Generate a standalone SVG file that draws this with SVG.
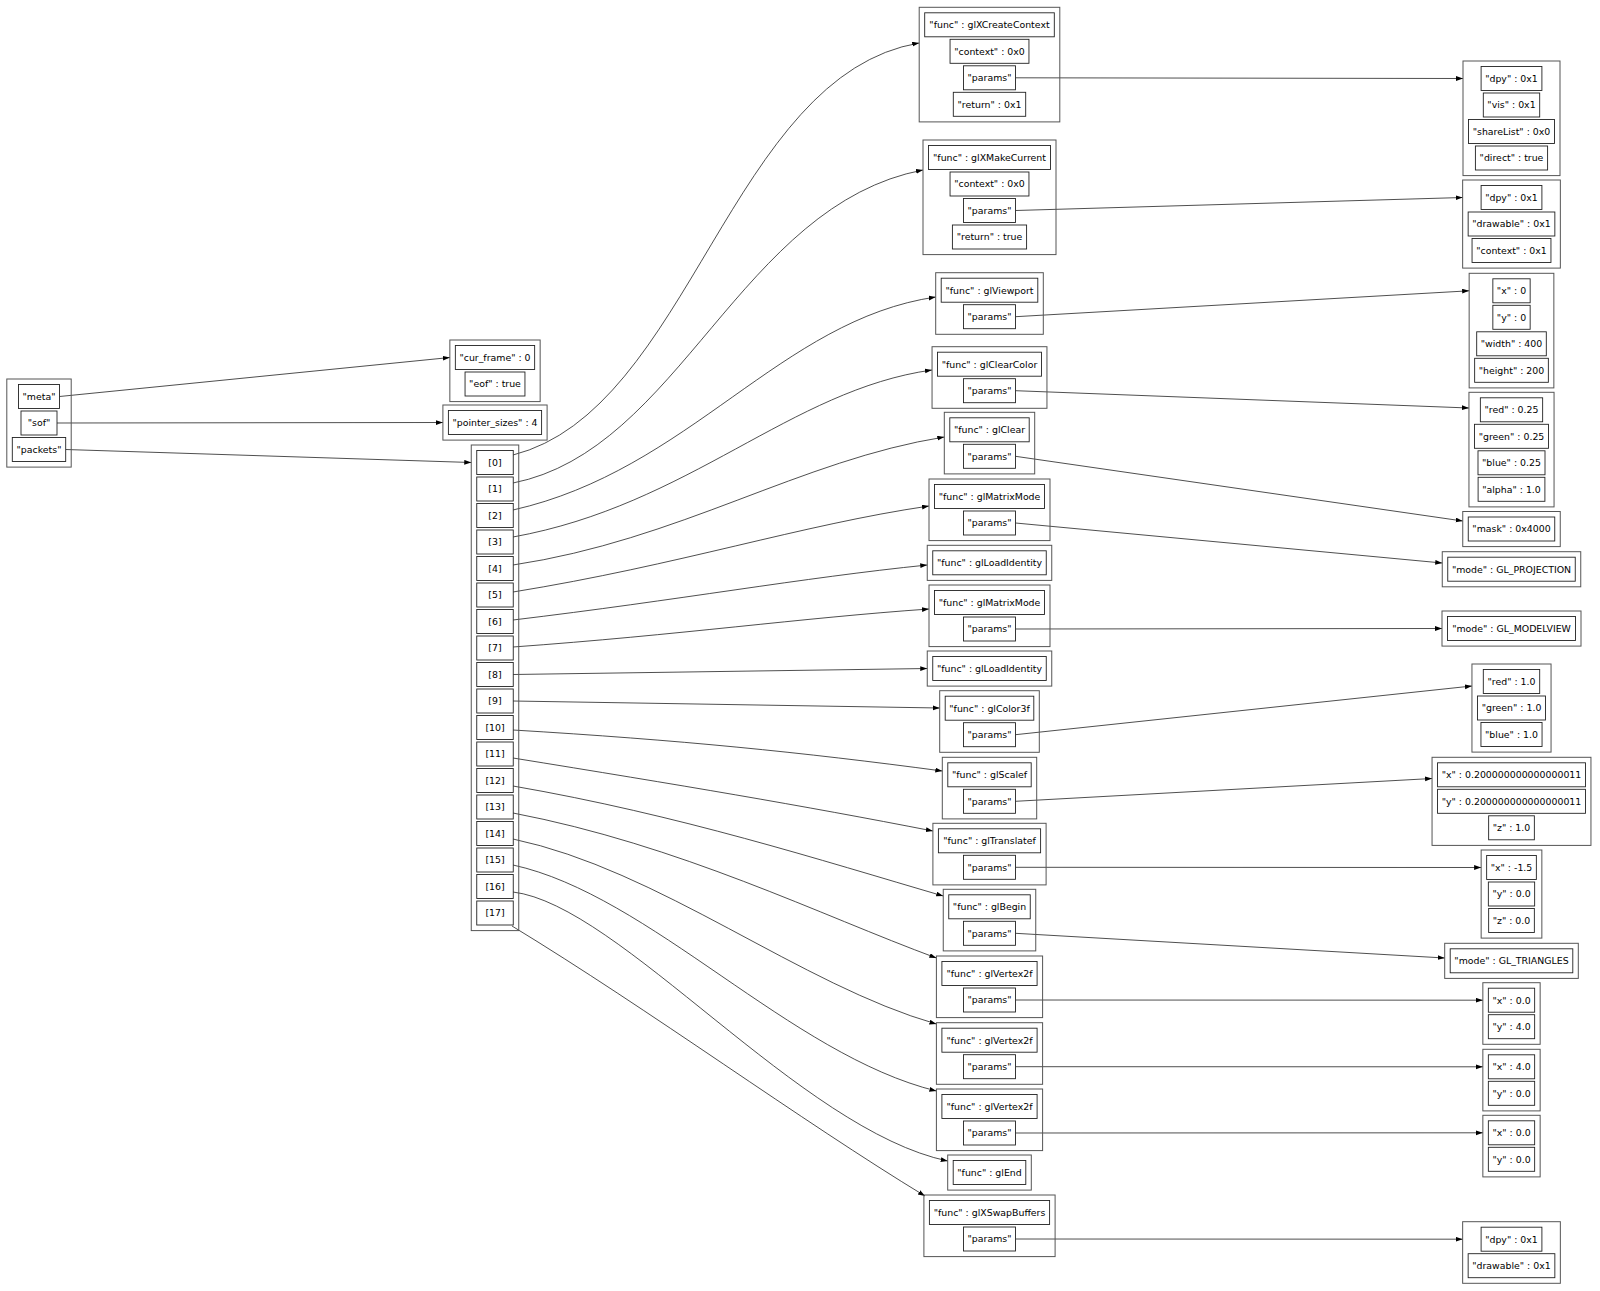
<svg xmlns="http://www.w3.org/2000/svg" width="1600" height="1291" viewBox="0 0 1600 1291">
<defs>
<marker id="ah" markerUnits="userSpaceOnUse" markerWidth="8" markerHeight="6" refX="7" refY="2.4" orient="auto"><path d="M0,0 L7,2.4 L0,4.8 z" fill="#000"/></marker>
<style>
.o{fill:none;stroke:#555;stroke-width:1}
.c{fill:#fff;stroke:#222;stroke-width:0.9}
text{font-family:"DejaVu Sans","Liberation Sans",sans-serif;font-size:9.4px;fill:#000;text-anchor:middle}
.e{fill:none;stroke:#222;stroke-width:0.8;marker-end:url(#ah)}
</style>
</defs>
<rect width="1600" height="1291" fill="#fff"/>
<g id="connectors">
<path class="e" d="M59.5,396.5 L449.9,357.5"/>
<path class="e" d="M57,423 L442.9,422.5"/>
<path class="e" d="M65.7,449.5 L471.25,462.5"/>
<path class="e" d="M513,455 C690,410 730,75 919.2,43"/>
<path class="e" d="M513,483 C680,450 740,205 923,170"/>
<path class="e" d="M513,510 C690,470 780,320 935.7,297"/>
<path class="e" d="M513,537 C690,505 790,390 932,370"/>
<path class="e" d="M513,565 C680,540 800,460 944.3,437"/>
<path class="e" d="M513,592 C680,565 800,525 929,506"/>
<path class="e" d="M513,620 C680,600 800,578 927.25,565"/>
<path class="e" d="M513,647 C680,635 800,618 929,609"/>
<path class="e" d="M513,674.5 L927.25,668.5"/>
<path class="e" d="M513,701 L939.7,708"/>
<path class="e" d="M513,730 C680,740 800,752 942.3,771"/>
<path class="e" d="M513,758 C680,785 800,805 932.9,831"/>
<path class="e" d="M513,786 C680,815 820,860 943.25,896"/>
<path class="e" d="M513,813 C680,845 820,915 936.4,958"/>
<path class="e" d="M513,839 C660,870 800,985 936.4,1024"/>
<path class="e" d="M513,865 C650,895 790,1055 936.4,1091"/>
<path class="e" d="M513,892 C620,905 800,1130 947.7,1161"/>
<path class="e" d="M512,926 C650,1010 800,1120 925,1196"/>
<path class="e" d="M1015.5,77.8 L1463,78.5"/>
<path class="e" d="M1015.5,210.5 L1462.65,197.5"/>
<path class="e" d="M1015.5,316.7 L1469.15,290.8"/>
<path class="e" d="M1015.5,390.7 L1468.95,408"/>
<path class="e" d="M1015.5,456.3 L1462.75,521"/>
<path class="e" d="M1015.5,523 L1442.25,563"/>
<path class="e" d="M1015.5,629 L1442,628.5"/>
<path class="e" d="M1015.5,734.7 L1471.95,686"/>
<path class="e" d="M1015.5,801.3 L1432.05,778.5"/>
<path class="e" d="M1015.5,867.3 L1481.15,867.5"/>
<path class="e" d="M1015.5,933.3 L1444.7,958"/>
<path class="e" d="M1015.5,1000 L1482.85,1000.2"/>
<path class="e" d="M1015.5,1066.7 L1482.85,1066.8"/>
<path class="e" d="M1015.5,1133 L1482.85,1132.8"/>
<path class="e" d="M1015.5,1239 L1462.65,1239.2"/>
</g>
<g id="root">
<rect class="o" x="6.8" y="379" width="64.4" height="88.1"/>
<rect class="c" x="18.5" y="384.5" width="41" height="24"/><text x="39" y="399.9">"meta"</text>
<rect class="c" x="21" y="411" width="36" height="24"/><text x="39" y="426.4">"sof"</text>
<rect class="c" x="12.3" y="437.5" width="53.4" height="24"/><text x="39" y="452.9">"packets"</text>
</g>
<g id="meta">
<rect class="o" x="449.85" y="340" width="90.3" height="61.6"/>
<rect class="c" x="455.35" y="345.5" width="79.3" height="24"/><text x="495" y="360.9">"cur_frame" : 0</text>
<rect class="c" x="465.05" y="372" width="59.9" height="24"/><text x="495" y="387.4">"eof" : true</text>
</g>
<g id="sof">
<rect class="o" x="442.9" y="405" width="104.2" height="35.1"/>
<rect class="c" x="448.4" y="410.5" width="93.2" height="24"/><text x="495" y="425.9">"pointer_sizes" : 4</text>
</g>
<g id="packets">
<rect class="o" x="471.25" y="445" width="47.5" height="485.6"/>
<rect class="c" x="476.75" y="450.5" width="36.5" height="24"/><text x="495" y="465.9">[0]</text>
<rect class="c" x="476.75" y="477" width="36.5" height="24"/><text x="495" y="492.4">[1]</text>
<rect class="c" x="476.75" y="503.5" width="36.5" height="24"/><text x="495" y="518.9">[2]</text>
<rect class="c" x="476.75" y="530" width="36.5" height="24"/><text x="495" y="545.4">[3]</text>
<rect class="c" x="476.75" y="556.5" width="36.5" height="24"/><text x="495" y="571.9">[4]</text>
<rect class="c" x="476.75" y="583" width="36.5" height="24"/><text x="495" y="598.4">[5]</text>
<rect class="c" x="476.75" y="609.5" width="36.5" height="24"/><text x="495" y="624.9">[6]</text>
<rect class="c" x="476.75" y="636" width="36.5" height="24"/><text x="495" y="651.4">[7]</text>
<rect class="c" x="476.75" y="662.5" width="36.5" height="24"/><text x="495" y="677.9">[8]</text>
<rect class="c" x="476.75" y="689" width="36.5" height="24"/><text x="495" y="704.4">[9]</text>
<rect class="c" x="476.75" y="715.5" width="36.5" height="24"/><text x="495" y="730.9">[10]</text>
<rect class="c" x="476.75" y="742" width="36.5" height="24"/><text x="495" y="757.4">[11]</text>
<rect class="c" x="476.75" y="768.5" width="36.5" height="24"/><text x="495" y="783.9">[12]</text>
<rect class="c" x="476.75" y="795" width="36.5" height="24"/><text x="495" y="810.4">[13]</text>
<rect class="c" x="476.75" y="821.5" width="36.5" height="24"/><text x="495" y="836.9">[14]</text>
<rect class="c" x="476.75" y="848" width="36.5" height="24"/><text x="495" y="863.4">[15]</text>
<rect class="c" x="476.75" y="874.5" width="36.5" height="24"/><text x="495" y="889.9">[16]</text>
<rect class="c" x="476.75" y="901" width="36.5" height="24"/><text x="495" y="916.4">[17]</text>
</g>
<g id="p0">
<rect class="o" x="919.2" y="7.3" width="140.6" height="114.6"/>
<rect class="c" x="924.7" y="12.8" width="129.6" height="24"/><text x="989.5" y="28.2">"func" : glXCreateContext</text>
<rect class="c" x="950.05" y="39.3" width="78.9" height="24"/><text x="989.5" y="54.7">"context" : 0x0</text>
<rect class="c" x="963.45" y="65.8" width="52.1" height="24"/><text x="989.5" y="81.2">"params"</text>
<rect class="c" x="953.3" y="92.3" width="72.4" height="24"/><text x="989.5" y="107.7">"return" : 0x1</text>
</g>
<g id="p1">
<rect class="o" x="923" y="140" width="133" height="114.6"/>
<rect class="c" x="928.5" y="145.5" width="122" height="24"/><text x="989.5" y="160.9">"func" : glXMakeCurrent</text>
<rect class="c" x="950.05" y="172" width="78.9" height="24"/><text x="989.5" y="187.4">"context" : 0x0</text>
<rect class="c" x="963.45" y="198.5" width="52.1" height="24"/><text x="989.5" y="213.9">"params"</text>
<rect class="c" x="952.4" y="225" width="74.2" height="24"/><text x="989.5" y="240.4">"return" : true</text>
</g>
<g id="p2">
<rect class="o" x="935.7" y="272.7" width="107.6" height="61.6"/>
<rect class="c" x="941.2" y="278.2" width="96.6" height="24"/><text x="989.5" y="293.6">"func" : glViewport</text>
<rect class="c" x="963.45" y="304.7" width="52.1" height="24"/><text x="989.5" y="320.1">"params"</text>
</g>
<g id="p3">
<rect class="o" x="932.05" y="346.7" width="114.9" height="61.6"/>
<rect class="c" x="937.55" y="352.2" width="103.9" height="24"/><text x="989.5" y="367.6">"func" : glClearColor</text>
<rect class="c" x="963.45" y="378.7" width="52.1" height="24"/><text x="989.5" y="394.1">"params"</text>
</g>
<g id="p4">
<rect class="o" x="944.3" y="412.3" width="90.4" height="61.6"/>
<rect class="c" x="949.8" y="417.8" width="79.4" height="24"/><text x="989.5" y="433.2">"func" : glClear</text>
<rect class="c" x="963.45" y="444.3" width="52.1" height="24"/><text x="989.5" y="459.7">"params"</text>
</g>
<g id="p5">
<rect class="o" x="929" y="479" width="121" height="61.6"/>
<rect class="c" x="934.5" y="484.5" width="110" height="24"/><text x="989.5" y="499.9">"func" : glMatrixMode</text>
<rect class="c" x="963.45" y="511" width="52.1" height="24"/><text x="989.5" y="526.4">"params"</text>
</g>
<g id="p6">
<rect class="o" x="927.25" y="545.3" width="124.5" height="35.1"/>
<rect class="c" x="932.75" y="550.8" width="113.5" height="24"/><text x="989.5" y="566.2">"func" : glLoadIdentity</text>
</g>
<g id="p7">
<rect class="o" x="929" y="585" width="121" height="61.6"/>
<rect class="c" x="934.5" y="590.5" width="110" height="24"/><text x="989.5" y="605.9">"func" : glMatrixMode</text>
<rect class="c" x="963.45" y="617" width="52.1" height="24"/><text x="989.5" y="632.4">"params"</text>
</g>
<g id="p8">
<rect class="o" x="927.25" y="651" width="124.5" height="35.1"/>
<rect class="c" x="932.75" y="656.5" width="113.5" height="24"/><text x="989.5" y="671.9">"func" : glLoadIdentity</text>
</g>
<g id="p9">
<rect class="o" x="939.7" y="690.7" width="99.6" height="61.6"/>
<rect class="c" x="945.2" y="696.2" width="88.6" height="24"/><text x="989.5" y="711.6">"func" : glColor3f</text>
<rect class="c" x="963.45" y="722.7" width="52.1" height="24"/><text x="989.5" y="738.1">"params"</text>
</g>
<g id="p10">
<rect class="o" x="942.3" y="757.3" width="94.4" height="61.6"/>
<rect class="c" x="947.8" y="762.8" width="83.4" height="24"/><text x="989.5" y="778.2">"func" : glScalef</text>
<rect class="c" x="963.45" y="789.3" width="52.1" height="24"/><text x="989.5" y="804.7">"params"</text>
</g>
<g id="p11">
<rect class="o" x="932.9" y="823.3" width="113.2" height="61.6"/>
<rect class="c" x="938.4" y="828.8" width="102.2" height="24"/><text x="989.5" y="844.2">"func" : glTranslatef</text>
<rect class="c" x="963.45" y="855.3" width="52.1" height="24"/><text x="989.5" y="870.7">"params"</text>
</g>
<g id="p12">
<rect class="o" x="943.25" y="889.3" width="92.5" height="61.6"/>
<rect class="c" x="948.75" y="894.8" width="81.5" height="24"/><text x="989.5" y="910.2">"func" : glBegin</text>
<rect class="c" x="963.45" y="921.3" width="52.1" height="24"/><text x="989.5" y="936.7">"params"</text>
</g>
<g id="p13">
<rect class="o" x="936.4" y="956" width="106.2" height="61.6"/>
<rect class="c" x="941.9" y="961.5" width="95.2" height="24"/><text x="989.5" y="976.9">"func" : glVertex2f</text>
<rect class="c" x="963.45" y="988" width="52.1" height="24"/><text x="989.5" y="1003.4">"params"</text>
</g>
<g id="p14">
<rect class="o" x="936.4" y="1022.7" width="106.2" height="61.6"/>
<rect class="c" x="941.9" y="1028.2" width="95.2" height="24"/><text x="989.5" y="1043.6">"func" : glVertex2f</text>
<rect class="c" x="963.45" y="1054.7" width="52.1" height="24"/><text x="989.5" y="1070.1">"params"</text>
</g>
<g id="p15">
<rect class="o" x="936.4" y="1089" width="106.2" height="61.6"/>
<rect class="c" x="941.9" y="1094.5" width="95.2" height="24"/><text x="989.5" y="1109.9">"func" : glVertex2f</text>
<rect class="c" x="963.45" y="1121" width="52.1" height="24"/><text x="989.5" y="1136.4">"params"</text>
</g>
<g id="p16">
<rect class="o" x="947.7" y="1155" width="83.6" height="35.1"/>
<rect class="c" x="953.2" y="1160.5" width="72.6" height="24"/><text x="989.5" y="1175.9">"func" : glEnd</text>
</g>
<g id="p17">
<rect class="o" x="923.9" y="1195" width="131.2" height="61.6"/>
<rect class="c" x="929.4" y="1200.5" width="120.2" height="24"/><text x="989.5" y="1215.9">"func" : glXSwapBuffers</text>
<rect class="c" x="963.45" y="1227" width="52.1" height="24"/><text x="989.5" y="1242.4">"params"</text>
</g>
<g id="p0params">
<rect class="o" x="1463" y="61" width="97" height="114.6"/>
<rect class="c" x="1481.1" y="66.5" width="60.8" height="24"/><text x="1511.5" y="81.9">"dpy" : 0x1</text>
<rect class="c" x="1483.3" y="93" width="56.4" height="24"/><text x="1511.5" y="108.4">"vis" : 0x1</text>
<rect class="c" x="1468.5" y="119.5" width="86" height="24"/><text x="1511.5" y="134.9">"shareList" : 0x0</text>
<rect class="c" x="1475.4" y="146" width="72.2" height="24"/><text x="1511.5" y="161.4">"direct" : true</text>
</g>
<g id="p1params">
<rect class="o" x="1462.65" y="180" width="97.7" height="88.1"/>
<rect class="c" x="1481.1" y="185.5" width="60.8" height="24"/><text x="1511.5" y="200.9">"dpy" : 0x1</text>
<rect class="c" x="1468.15" y="212" width="86.7" height="24"/><text x="1511.5" y="227.4">"drawable" : 0x1</text>
<rect class="c" x="1472.05" y="238.5" width="78.9" height="24"/><text x="1511.5" y="253.9">"context" : 0x1</text>
</g>
<g id="p2params">
<rect class="o" x="1469.15" y="273.3" width="84.7" height="114.6"/>
<rect class="c" x="1492.85" y="278.8" width="37.3" height="24"/><text x="1511.5" y="294.2">"x" : 0</text>
<rect class="c" x="1492.85" y="305.3" width="37.3" height="24"/><text x="1511.5" y="320.7">"y" : 0</text>
<rect class="c" x="1476.7" y="331.8" width="69.6" height="24"/><text x="1511.5" y="347.2">"width" : 400</text>
<rect class="c" x="1474.65" y="358.3" width="73.7" height="24"/><text x="1511.5" y="373.7">"height" : 200</text>
</g>
<g id="p3params">
<rect class="o" x="1468.95" y="392.3" width="85.1" height="114.6"/>
<rect class="c" x="1480.35" y="397.8" width="62.3" height="24"/><text x="1511.5" y="413.2">"red" : 0.25</text>
<rect class="c" x="1474.45" y="424.3" width="74.1" height="24"/><text x="1511.5" y="439.7">"green" : 0.25</text>
<rect class="c" x="1478" y="450.8" width="67" height="24"/><text x="1511.5" y="466.2">"blue" : 0.25</text>
<rect class="c" x="1478.1" y="477.3" width="66.8" height="24"/><text x="1511.5" y="492.7">"alpha" : 1.0</text>
</g>
<g id="p4params">
<rect class="o" x="1462.75" y="511.5" width="97.5" height="35.1"/>
<rect class="c" x="1468.25" y="517" width="86.5" height="24"/><text x="1511.5" y="532.4">"mask" : 0x4000</text>
</g>
<g id="p5params">
<rect class="o" x="1442.25" y="551.7" width="138.5" height="35.1"/>
<rect class="c" x="1447.75" y="557.2" width="127.5" height="24"/><text x="1511.5" y="572.6">"mode" : GL_PROJECTION</text>
</g>
<g id="p7params">
<rect class="o" x="1442" y="611" width="139" height="35.1"/>
<rect class="c" x="1447.5" y="616.5" width="128" height="24"/><text x="1511.5" y="631.9">"mode" : GL_MODELVIEW</text>
</g>
<g id="p9params">
<rect class="o" x="1471.95" y="664" width="79.1" height="88.1"/>
<rect class="c" x="1483.3" y="669.5" width="56.4" height="24"/><text x="1511.5" y="684.9">"red" : 1.0</text>
<rect class="c" x="1477.45" y="696" width="68.1" height="24"/><text x="1511.5" y="711.4">"green" : 1.0</text>
<rect class="c" x="1480.95" y="722.5" width="61.1" height="24"/><text x="1511.5" y="737.9">"blue" : 1.0</text>
</g>
<g id="p10params">
<rect class="o" x="1432.05" y="757.3" width="158.9" height="88.1"/>
<rect class="c" x="1437.55" y="762.8" width="147.9" height="24"/><text x="1511.5" y="778.2">"x" : 0.200000000000000011</text>
<rect class="c" x="1437.55" y="789.3" width="147.9" height="24"/><text x="1511.5" y="804.7">"y" : 0.200000000000000011</text>
<rect class="c" x="1488.65" y="815.8" width="45.7" height="24"/><text x="1511.5" y="831.2">"z" : 1.0</text>
</g>
<g id="p11params">
<rect class="o" x="1481.15" y="850" width="60.7" height="88.1"/>
<rect class="c" x="1486.65" y="855.5" width="49.7" height="24"/><text x="1511.5" y="870.9">"x" : -1.5</text>
<rect class="c" x="1488.35" y="882" width="46.3" height="24"/><text x="1511.5" y="897.4">"y" : 0.0</text>
<rect class="c" x="1488.65" y="908.5" width="45.7" height="24"/><text x="1511.5" y="923.9">"z" : 0.0</text>
</g>
<g id="p12params">
<rect class="o" x="1444.7" y="943.3" width="133.6" height="35.1"/>
<rect class="c" x="1450.2" y="948.8" width="122.6" height="24"/><text x="1511.5" y="964.2">"mode" : GL_TRIANGLES</text>
</g>
<g id="p13params">
<rect class="o" x="1482.85" y="982.7" width="57.3" height="61.6"/>
<rect class="c" x="1488.35" y="988.2" width="46.3" height="24"/><text x="1511.5" y="1003.6">"x" : 0.0</text>
<rect class="c" x="1488.35" y="1014.7" width="46.3" height="24"/><text x="1511.5" y="1030.1">"y" : 4.0</text>
</g>
<g id="p14params">
<rect class="o" x="1482.85" y="1049.3" width="57.3" height="61.6"/>
<rect class="c" x="1488.35" y="1054.8" width="46.3" height="24"/><text x="1511.5" y="1070.2">"x" : 4.0</text>
<rect class="c" x="1488.35" y="1081.3" width="46.3" height="24"/><text x="1511.5" y="1096.7">"y" : 0.0</text>
</g>
<g id="p15params">
<rect class="o" x="1482.85" y="1115.3" width="57.3" height="61.6"/>
<rect class="c" x="1488.35" y="1120.8" width="46.3" height="24"/><text x="1511.5" y="1136.2">"x" : 0.0</text>
<rect class="c" x="1488.35" y="1147.3" width="46.3" height="24"/><text x="1511.5" y="1162.7">"y" : 0.0</text>
</g>
<g id="p17params">
<rect class="o" x="1462.65" y="1221.7" width="97.7" height="61.6"/>
<rect class="c" x="1481.1" y="1227.2" width="60.8" height="24"/><text x="1511.5" y="1242.6">"dpy" : 0x1</text>
<rect class="c" x="1468.15" y="1253.7" width="86.7" height="24"/><text x="1511.5" y="1269.1">"drawable" : 0x1</text>
</g>
</svg>
